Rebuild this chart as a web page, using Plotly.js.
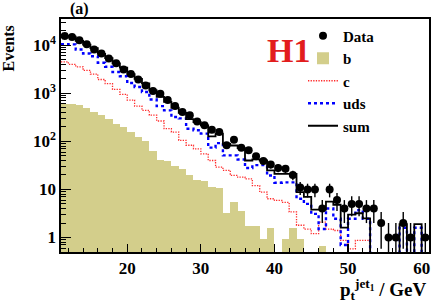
<!DOCTYPE html>
<html><head><meta charset="utf-8">
<script src="https://cdn.plot.ly/plotly-3.0.1.min.js"></script>
<style>html,body{margin:0;padding:0;background:#fff}#chart{width:431px;height:305px}</style>
</head><body><div id="chart"></div>
<script>
// bin lower edges of p_t^jet1 (GeV), 1 GeV bins
const binLow = [11,12,13,14,15,16,17,18,19,20,21,22,23,24,25,26,27,28,29,30,
  31,32,33,34,35,36,37,38,39,40,41,42,43,44,45,46,47,48,49,50,
  51,52,53,54,55,56,57,58,59,60];
const dataEvents = [15500,14800,12700,10500,8100,6700,5300,4200,3100,2500,
  1930,1450,1120,980,720,540,410,350,260,215,
  175,156,83,108,74,65,49,39,33,28,
  27,20,11,10,10,4,10,6,4,5,
  5,4,4,2,1,1,2,1,0,1];
const bEvents = [610,600,560,500,410,350,290,235,200,156,
  123,101,63,41,39,30,26.5,19.6,15.5,14.8,
  11,10.5,3.3,5.6,3.6,1.7,1.7,0.94,1.6,0,
  0.94,1.6,0.94,0,0,0.68,0,0,0,0,
  0,0,0,0,0,0,0,0,0,0];
const cEvents = [4500,4000,3550,3000,2500,1930,1590,1200,950,720,
  540,440,350,265,183,156,105,83,70,55,
  40,29,25,19.6,18,16.6,12,8.8,6.4,5.9,
  5.4,3.4,1.8,1.5,1.2,2.1,1.5,1.4,0.87,0.58,
  0.87,0.87,0,0,0,0,0,0,0,0];
const udsEvents = [10500,10400,8100,6700,5900,4300,3550,2770,2250,1630,
  1350,1060,740,540,440,320,300,183,170,145,
  74,92,51,51,42,28,32,32,19.5,13.8,
  14,14,6.4,5,3.1,1.5,4,2.45,0.7,2.45,
  3.7,2.45,0,0,0,0,1.6,0,1.6,0];
const sumEvents = [15600,15000,12300,10300,8700,6600,5400,4200,3400,2500,
  2000,1600,1150,840,660,500,390,290,250,215,
  127,145,88,82,72,40,42,40,25,21,
  21,21,8.8,7,3.8,3.8,5.6,4.8,1.6,3.0,
  3.2,2.5,0,0,0,0,1.9,0,1.9,0];
const yTickVals = [1,10,100,1000,10000];
const yTickText = ['1','10','10<sup>2</sup>','10<sup>3</sup>','10<sup>4</sup>'];

const FONT = '"Liberation Serif", serif';
const FLOOR = 1e-2; // empty bins drawn down to the frame bottom
const lastEdge = binLow[binLow.length-1] + 1;
const stepX = binLow.concat([lastEdge]);
function stepY(v){ const a = v.map(x => x > 0 ? x : FLOOR); a.push(a[a.length-1]); return a; }
const centers = binLow.map(x => x + 0.5);

// minor log ticks 2..9 per decade
const yMinor = [];
[0.1,1,10,100,1000,10000].forEach(d => { for (let k=2;k<=9;k++) yMinor.push(k*d); });

const dx = [], dy = [], de = [];
dataEvents.forEach((v,i) => { if (v > 0) { dx.push(centers[i]); dy.push(v); de.push(Math.sqrt(v)); } });

const traces = [
  {type:'bar', name:'b', x:centers, y:bEvents, width:1, legendrank:2,
   marker:{color:'#d3ce8b', line:{width:0}}},
  {type:'scatter', mode:'lines', name:'c', x:stepX, y:stepY(cEvents), legendrank:3,
   line:{shape:'hv', color:'#ff2a2a', width:1.3, dash:'1.3px,1.3px'}},
  {type:'scatter', mode:'lines', name:'uds', x:stepX, y:stepY(udsEvents), legendrank:4,
   line:{shape:'hv', color:'#0000ff', width:2.4, dash:'3px,3px'}},
  {type:'scatter', mode:'lines', name:'sum', x:stepX, y:stepY(sumEvents), legendrank:5,
   line:{shape:'hv', color:'#000', width:1.8}},
  {type:'scatter', mode:'markers', name:'Data', x:dx, y:dy, legendrank:1,
   marker:{color:'#000', size:8},
   error_y:{type:'data', array:de, visible:true, color:'#000', thickness:1.4, width:0}}
];

const W = 368, H = 233, L = 61, T = 19;
function px2x(p){ return (p - L) / W; }
function py2y(p){ return (T + H - p) / H; }

const layout = {
  width:431, height:305,
  margin:{l:L, r:2, t:T, b:305-T-H, pad:0},
  paper_bgcolor:'#fff', plot_bgcolor:'#fff',
  bargap:0,
  showlegend:true,
  legend:{x:px2x(303), y:py2y(19.5), xanchor:'left', yanchor:'top', bgcolor:'rgba(0,0,0,0)',
          font:{family:FONT, size:15, color:'#000', weight:'bold'}, itemwidth:30},
  xaxis:{range:[11,61], tickmode:'linear', tick0:0, dtick:10, ticks:'inside', ticklen:8, tickwidth:1.3,
         tickcolor:'#000', showline:true, linecolor:'#000', linewidth:1.6, mirror:true,
         showgrid:false, zeroline:false,
         tickfont:{family:FONT, size:17, color:'#000', weight:'bold'},
         minor:{ticks:'inside', ticklen:4, tickwidth:1, tickcolor:'#000', tick0:0, dtick:2, showgrid:false}},
  yaxis:{type:'log', range:[Math.log10(0.5), Math.log10(35000)], tickmode:'array',
         tickvals:yTickVals, ticktext:yTickText, ticks:'inside', ticklen:10, tickwidth:1.3,
         tickcolor:'#000', showline:true, linecolor:'#000', linewidth:1.6, mirror:true,
         showgrid:false, zeroline:false,
         tickfont:{family:FONT, size:17, color:'#000', weight:'bold'},
         minor:{tickmode:'array', tickvals:yMinor, ticks:'inside', ticklen:5, tickwidth:1, tickcolor:'#000', showgrid:false}},
  annotations:[
    {text:'(a)', xref:'paper', yref:'paper', x:px2x(79), y:py2y(8.5), xanchor:'center', yanchor:'middle',
     showarrow:false, font:{family:FONT, size:16, color:'#000', weight:'bold'}},
    {text:'Events', xref:'paper', yref:'paper', x:px2x(8), y:py2y(48.5), xanchor:'center', yanchor:'middle',
     textangle:-90, showarrow:false, font:{family:FONT, size:16, color:'#000', weight:'bold'}},
    {text:'H1', xref:'paper', yref:'paper', x:px2x(288.5), y:py2y(50), xanchor:'center', yanchor:'middle',
     showarrow:false, font:{family:FONT, size:34, color:'#e21d1d', weight:'bold'}},
    {text:'p<sub>t</sub><sup>jet<sub>1</sub></sup> / GeV', xref:'paper', yref:'paper', x:px2x(428), y:py2y(289),
     xanchor:'right', yanchor:'middle', showarrow:false, font:{family:FONT, size:19, color:'#000', weight:'bold'}}
  ]
};

Plotly.newPlot('chart', traces, layout, {staticPlot:true, displayModeBar:false});
</script>
</body></html>
